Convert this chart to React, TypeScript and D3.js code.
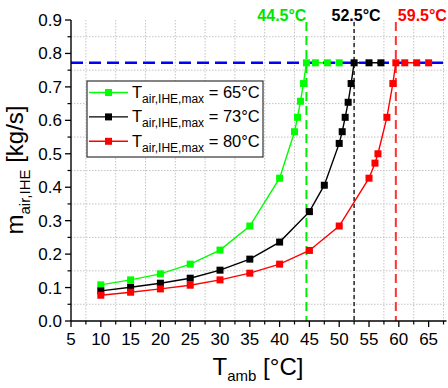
import React from 'react';
import * as d3 from 'd3';

const tAmbGreen = [10, 15, 20, 25, 30, 35, 40, 42.5, 43, 43.5, 44, 44.5, 46, 48, 50];
const mGreen = [0.108, 0.123, 0.141, 0.170, 0.212, 0.284, 0.427, 0.566, 0.609, 0.657, 0.710, 0.772, 0.772, 0.772, 0.772];
const tAmbBlack = [10, 15, 20, 25, 30, 35, 40, 45, 47.5, 50, 50.5, 51, 51.5, 52, 52.5, 55, 57];
const mBlack = [0.090, 0.101, 0.113, 0.128, 0.152, 0.185, 0.236, 0.327, 0.406, 0.531, 0.566, 0.609, 0.654, 0.710, 0.772, 0.772, 0.772];
const tAmbRed = [10, 15, 20, 25, 30, 35, 40, 45, 50, 55, 56, 56.5, 58, 59, 59.5, 61, 63, 65];
const mRed = [0.077, 0.086, 0.096, 0.107, 0.123, 0.143, 0.170, 0.211, 0.284, 0.427, 0.472, 0.500, 0.609, 0.710, 0.772, 0.772, 0.772, 0.772];

const legendValues = ['65°C', '73°C', '80°C'];
const limitTemps = [44.5, 52.5, 59.5];
const limitLabels = ['44.5°C', '52.5°C', '59.5°C'];
const mMaxLine = 0.772;
const xTicks = [5, 10, 15, 20, 25, 30, 35, 40, 45, 50, 55, 60, 65];
const xMinor = [7.5, 12.5, 17.5, 22.5, 27.5, 32.5, 37.5, 42.5, 47.5, 52.5, 57.5, 62.5, 67.5];
const yTicks = [0, 0.1, 0.2, 0.3, 0.4, 0.5, 0.6, 0.7, 0.8, 0.9];
const yMinor = [0.05, 0.15, 0.25, 0.35, 0.45, 0.55, 0.65, 0.75, 0.85];

const FONT = '"Liberation Sans", Arial, sans-serif';

const series = [
  { x: tAmbGreen, y: mGreen, color: '#00ff00', label: legendValues[0] },
  { x: tAmbBlack, y: mBlack, color: '#000000', label: legendValues[1] },
  { x: tAmbRed, y: mRed, color: '#ff0000', label: legendValues[2] },
];

const limits = [
  { t: limitTemps[0], label: limitLabels[0], color: '#00e600', line: '#00ee00', dash: '9,5', width: 2, anchor: 'end', dx: 0 },
  { t: limitTemps[1], label: limitLabels[1], color: '#000000', line: '#333333', dash: '4,3', width: 1.6, anchor: 'middle', dx: 2 },
  { t: limitTemps[2], label: limitLabels[2], color: '#ff0000', line: '#ff3333', dash: '9,5', width: 2, anchor: 'start', dx: 2 },
];

export default function App() {
  const W = 448, H = 388;
  const x = d3.scaleLinear().domain([5, 68]).range([71, 446.5]);
  const y = d3.scaleLinear().domain([0, 0.9]).range([321, 20]);
  const line = d3.line<number>();
  const ms = 7;

  return (
    <svg width={W} height={H} style={{ position: 'absolute', left: 0, top: 0, background: '#fff' }} fontFamily={FONT}>
      <rect x={0} y={0} width={W} height={H} fill="#fff" />
      {/* grid at minor positions */}
      {xMinor.map((v) => (
        <line key={'gx' + v} x1={x(v)} x2={x(v)} y1={y(0.9)} y2={y(0)} stroke="#c4c4c4" strokeWidth={1} strokeDasharray="1.5,1.5" />
      ))}
      {yMinor.map((v) => (
        <line key={'gy' + v} x1={x(5)} x2={x(68)} y1={y(v)} y2={y(v)} stroke="#c4c4c4" strokeWidth={1} strokeDasharray="1.5,1.5" />
      ))}
      {/* vertical limit lines */}
      {limits.map((l) => (
        <line key={'vl' + l.t} x1={x(l.t)} x2={x(l.t)} y1={22} y2={y(0)} stroke={l.line} strokeWidth={l.width} strokeDasharray={l.dash} />
      ))}
      {/* series lines */}
      {series.map((s, i) => (
        <path key={'sl' + i} d={line(s.x.map((v, j) => [x(v), y(s.y[j])]) as any) || ''} fill="none" stroke={s.color} strokeWidth={1.4} />
      ))}
      {/* blue max line */}
      <line x1={x(5)} x2={x(68)} y1={y(mMaxLine)} y2={y(mMaxLine)} stroke="#0000ff" strokeWidth={2.5} strokeDasharray="12,6" />
      {/* markers */}
      {series.map((s, i) => (
        <g key={'sm' + i}>
          {s.x.map((v, j) => (
            <rect key={j} x={x(v) - ms / 2} y={y(s.y[j]) - ms / 2} width={ms} height={ms} fill={s.color} />
          ))}
        </g>
      ))}
      {/* axes */}
      <line x1={x(5)} x2={x(68)} y1={y(0)} y2={y(0)} stroke="#000" strokeWidth={1.4} />
      <line x1={x(5)} x2={x(5)} y1={y(0)} y2={y(0.9)} stroke="#000" strokeWidth={1.4} />
      {xTicks.map((v) => (
        <g key={'xt' + v}>
          <line x1={x(v)} x2={x(v)} y1={y(0)} y2={y(0) + 6} stroke="#000" strokeWidth={1.3} />
          <text x={x(v)} y={345} textAnchor="middle" fontSize={17} fill="#000">{v}</text>
        </g>
      ))}
      {xMinor.map((v) => (
        <line key={'xm' + v} x1={x(v)} x2={x(v)} y1={y(0)} y2={y(0) + 3.5} stroke="#000" strokeWidth={1.2} />
      ))}
      {yTicks.map((v) => (
        <g key={'yt' + v}>
          <line x1={x(5) - 6} x2={x(5)} y1={y(v)} y2={y(v)} stroke="#000" strokeWidth={1.3} />
          <text x={62} y={y(v) + 6} textAnchor="end" fontSize={17} fill="#000">{v.toFixed(1)}</text>
        </g>
      ))}
      {yMinor.map((v) => (
        <line key={'ym' + v} x1={x(5) - 3.5} x2={x(5)} y1={y(v)} y2={y(v)} stroke="#000" strokeWidth={1.2} />
      ))}
      {/* limit labels */}
      {limits.map((l) => (
        <text key={'ll' + l.t} x={x(l.t) + l.dx} y={20.5} textAnchor={l.anchor as any} fontSize={16} fontWeight="bold" fill={l.color}>{l.label}</text>
      ))}
      {/* legend */}
      <rect x={87} y={81} width={176} height={76} fill="#fff" stroke="#333" strokeWidth={1.2} />
      {series.map((s, i) => {
        const cy = 92.5 + i * 24.4;
        return (
          <g key={'lg' + i}>
            <line x1={89} x2={128} y1={cy} y2={cy} stroke={s.color} strokeWidth={1.4} />
            <rect x={108.5 - ms / 2} y={cy - ms / 2} width={ms} height={ms} fill={s.color} />
            <text x={132} y={cy + 5.5} fontSize={16.5} fill="#000">
              T<tspan fontSize={12} dy={5}>air,IHE,max</tspan><tspan dy={-5}> = {s.label}</tspan>
            </text>
          </g>
        );
      })}
      {/* axis titles */}
      <text x={258} y={375} textAnchor="middle" fontSize={24} fill="#000">
        T<tspan fontSize={15} dy={6}>amb</tspan><tspan dy={-6}> [°C]</tspan>
      </text>
      <text transform={`translate(23,${170})rotate(-90)`} textAnchor="middle" fontSize={24} fill="#000">
        m<tspan fontSize={15} dy={7}>air,IHE</tspan><tspan dy={-7}> [kg/s]</tspan>
      </text>
    </svg>
  );
}
